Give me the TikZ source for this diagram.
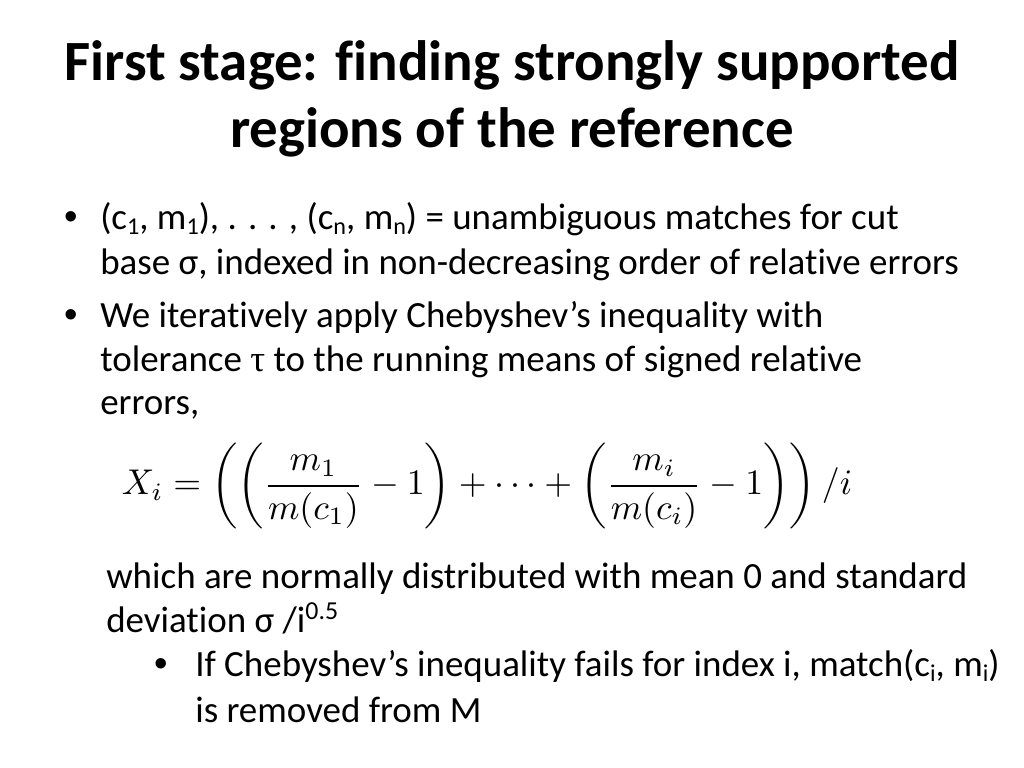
\documentclass[tikz,border=0pt]{standalone}
\usepackage{fontspec}
\setmainfont{Carlito}[Ligatures=NoCommon]
\newfontfamily\symbfont{Liberation Serif}
\newfontfamily\dotfont{Liberation Sans}
\newlength\pxu
\setlength\pxu{0.7031pt}
\newcommand\lowsub[1]{\raisebox{-0.32ex}{\fontsize{17}{17}\selectfont #1}}

\begin{document}
\begin{tikzpicture}[x=0.7031pt,y=-0.7031pt,
	title/.style={anchor=base, inner sep=0pt, font=\fontsize{40}{48}\selectfont\bfseries},
	body/.style={anchor=base west, inner sep=0pt, font=\fontsize{26}{32}\selectfont},
	bul/.style={anchor=base west, inner sep=0pt, font=\fontsize{27}{30}\selectfont\dotfont}]
\useasboundingbox (0,0) rectangle (1024,768);

% title
\node[title] (t1) at (512,80) {First stage: finding strongly supported};
\node[title] (t2) at (512,147) {regions of the reference};

% first bullet
\node[bul] (d1) at (64,229) {•};
\node[body] (l11) at (100,229) {(c\lowsub{1}, m\lowsub{1}), . . . , (c\lowsub{n}, m\lowsub{n}) = unambiguous matches for cut};
\node[body] (l12) at (100,274) {base σ, indexed in non-decreasing order of relative errors};

% second bullet
\node[bul] (d2) at (64,327) {•};
\node[body] (l21) at (100,327) {We iteratively apply Chebyshev’s inequality with};
\node[body] (l22) at (100,371) {tolerance {\symbfont τ} to the running means of signed relative};
\node[body] (l23) at (100,414) {errors,};

% formula
\node[inner sep=0pt] (eq) at (487,486) {\resizebox{730\pxu}{!}{$\displaystyle X_i=\left(\left(\frac{m_1}{m(c_1)}-1\right)+\cdots+\left(\frac{m_i}{m(c_i)}-1\right)\right)/i$}};

\node[body] (l31) at (106,588) {which are normally distributed with mean 0 and standard};
\node[body] (l32) at (106,632) {deviation σ /i\textsuperscript{0.5}};

% sub bullet
\node[bul] (d3) at (154,676) {•};
\node[body] (l41) at (195,676) {If Chebyshev’s inequality fails for index i, match(c\lowsub{i}, m\lowsub{i})};
\node[body] (l42) at (195,722) {is removed from M};
\end{tikzpicture}
\end{document}
